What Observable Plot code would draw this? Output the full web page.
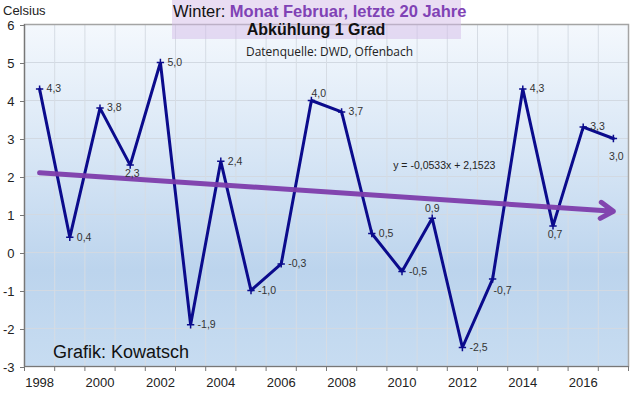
<!DOCTYPE html>
<html>
<head>
<meta charset="utf-8">
<script src="https://cdn.jsdelivr.net/npm/d3@7"></script>
<script src="https://cdn.jsdelivr.net/npm/@observablehq/plot@0.6"></script>
<style>
  html, body { margin: 0; padding: 0; background: #fff; }
  svg { display: block; }
</style>
</head>
<body>
<div id="chart"></div>
<script>
// ---------- data ----------
const years = [1998, 1999, 2000, 2001, 2002, 2003, 2004, 2005, 2006, 2007,
               2008, 2009, 2010, 2011, 2012, 2013, 2014, 2015, 2016, 2017];
const temps = [4.3, 0.4, 3.8, 2.3, 5.0, -1.9, 2.4, -1.0, -0.3, 4.0,
               3.7, 0.5, -0.5, 0.9, -2.5, -0.7, 4.3, 0.7, 3.3, 3.0];
const yTicks = [-3, -2, -1, 0, 1, 2, 3, 4, 5, 6];
const xTickLabels = [1998, 2000, 2002, 2004, 2006, 2008, 2010, 2012, 2014, 2016];
const trendSlope = -0.0533;
const trendIntercept = 2.1523;
const trendText = "y = -0,0533x + 2,1523";
const titlePlain = "Winter: ";
const titleBold = "Monat Februar, letzte 20 Jahre";
const subtitle = "Abkühlung 1 Grad";
const sourceText = "Datenquelle: DWD, Offenbach";
const unitText = "Celsius";
const creditText = "Grafik: Kowatsch";

// ---------- label placement (style) ----------
const labelPlacement = {2001: "below", 2007: "aboveRight", 2011: "above", 2013: "belowRight", 2015: "below", 2017: "belowFar"};
const placementStyle = {
  right:      {textAnchor: "start",  dx: 7, dy: 0},
  above:      {textAnchor: "middle", dx: 0, dy: -10},
  aboveRight: {textAnchor: "start",  dx: 0, dy: -7},
  below:      {textAnchor: "middle", dx: 2, dy: 9},
  belowRight: {textAnchor: "start",  dx: 1, dy: 12},
  belowFar:   {textAnchor: "middle", dx: 3, dy: 18}
};
const eqPos = {year: 2011.4, value: 2.29};

// ---------- layout ----------
const W = 640, H = 397;
const M = {top: 24, right: 12, bottom: 31, left: 24};
const FONT = "'Liberation Sans', Arial, Helvetica, sans-serif";
const NAVY = "#0b0b8c";
const PURPLE = "#7d3cab";

const data = years.map((year, i) => ({year, temp: temps[i], place: labelPlacement[year] ?? "right"}));
const boundaries = [...years.map(y => y - 0.5), years[years.length - 1] + 0.5];
const n = years.length;
const trend = [{
  x1: years[0], y1: trendIntercept + trendSlope * 1,
  x2: years[n - 1], y2: trendIntercept + trendSlope * n
}];
const fmt = v => v.toFixed(1).replace(".", ",");

function background() {
  const g = d3.create("svg:g");
  const grad = g.append("defs").append("linearGradient")
    .attr("id", "bgGrad").attr("x1", 0).attr("y1", 0).attr("x2", 0).attr("y2", 1);
  [[0, "#f4f8fd"], [0.4, "#d6e5f5"], [0.72, "#bcd4ed"], [1, "#c7dcf1"]]
    .forEach(([o, c]) => grad.append("stop").attr("offset", o).attr("stop-color", c));
  g.append("rect")
    .attr("x", M.left).attr("y", M.top)
    .attr("width", W - M.left - M.right).attr("height", H - M.top - M.bottom)
    .attr("fill", "url(#bgGrad)");
  return g.node();
}

function annotations() {
  const g = d3.create("svg:g").attr("font-family", FONT).attr("text-anchor", "start");
  g.append("rect").attr("x", 172).attr("y", 0).attr("width", 289).attr("height", 39)
    .attr("fill", "#d4bce8").attr("fill-opacity", 0.5);
  const t = g.append("text").attr("x", 173).attr("y", 17).attr("font-size", 16.5).attr("text-anchor", "start");
  t.append("tspan").attr("fill", "#111").text(titlePlain);
  t.append("tspan").attr("fill", "#8042b5").attr("font-weight", "bold").text(titleBold);
  g.append("text").attr("x", 316).attr("y", 35).attr("text-anchor", "middle")
    .attr("font-weight", "bold").attr("font-size", 16).attr("fill", "#111").text(subtitle);
  g.append("text").attr("x", 246).attr("y", 56).attr("font-size", 12.5).attr("text-anchor", "start")
    .attr("font-family", "'Open Sans', 'Noto Sans', sans-serif")
    .attr("textLength", 167).attr("lengthAdjust", "spacingAndGlyphs")
    .attr("fill", "#222").text(sourceText);
  g.append("text").attr("x", 3).attr("y", 15).attr("font-size", 13).attr("text-anchor", "start")
    .attr("fill", "#222").text(unitText);
  g.append("text").attr("x", 53).attr("y", 358).attr("font-size", 18).attr("text-anchor", "start")
    .attr("fill", "#111").text(creditText);
  return g.node();
}

const labelMarks = Object.entries(placementStyle).map(([key, st]) =>
  Plot.text(data.filter(d => d.place === key), {
    x: "year", y: "temp", text: d => fmt(d.temp),
    textAnchor: st.textAnchor, dx: st.dx, dy: st.dy,
    fontSize: 10.5, fill: "#333"
  })
);

const chart = Plot.plot({
  width: W, height: H,
  marginTop: M.top, marginRight: M.right, marginBottom: M.bottom, marginLeft: M.left,
  x: {type: "linear", domain: [boundaries[0], boundaries[boundaries.length - 1]], label: null},
  y: {domain: [yTicks[0], yTicks[yTicks.length - 1]], label: null},
  style: {fontFamily: FONT, fontSize: "13px", color: "#222", background: "white", overflow: "visible"},
  marks: [
    background,
    Plot.ruleY(yTicks, {stroke: "#d2d9e2", strokeWidth: 1}),
    Plot.ruleX(boundaries, {stroke: "#d6dce4", strokeWidth: 1}),
    Plot.frame({stroke: "#a4a4a4", strokeWidth: 1.5}),
    Plot.ruleX([boundaries[0]], {stroke: "#777", strokeWidth: 1.2}),
    Plot.ruleY([yTicks[0]], {stroke: "#777", strokeWidth: 1.2}),
    Plot.axisY({ticks: yTicks, tickSize: 4, tickPadding: 6, dy: 1, label: null, stroke: "#777",
                tickFormat: d => String(d), fontSize: 13, fill: "#222"}),
    Plot.axisX({ticks: boundaries, tickSize: 5, tickFormat: () => "", label: null, stroke: "#777"}),
    Plot.axisX({ticks: xTickLabels, tickSize: 0, tickPadding: 11, label: null,
                tickFormat: d => String(d), fontSize: 13, fill: "#222"}),
    Plot.line(data, {x: "year", y: "temp", stroke: NAVY, strokeWidth: 3, strokeLinejoin: "miter"}),
    Plot.dot(data, {x: "year", y: "temp", symbol: "plus", r: 2.5, stroke: NAVY, strokeWidth: 1.5}),
    Plot.arrow(trend, {x1: "x1", y1: "y1", x2: "x2", y2: "y2", stroke: PURPLE, strokeWidth: 5,
                       headLength: 4.5, headAngle: 65, strokeOpacity: 0.95}),
    ...labelMarks,
    Plot.text([eqPos], {x: "year", y: "value", text: () => trendText, fontSize: 10.5, fill: "#222"}),
    annotations
  ]
});

document.getElementById("chart").appendChild(chart);
</script>
</body>
</html>
